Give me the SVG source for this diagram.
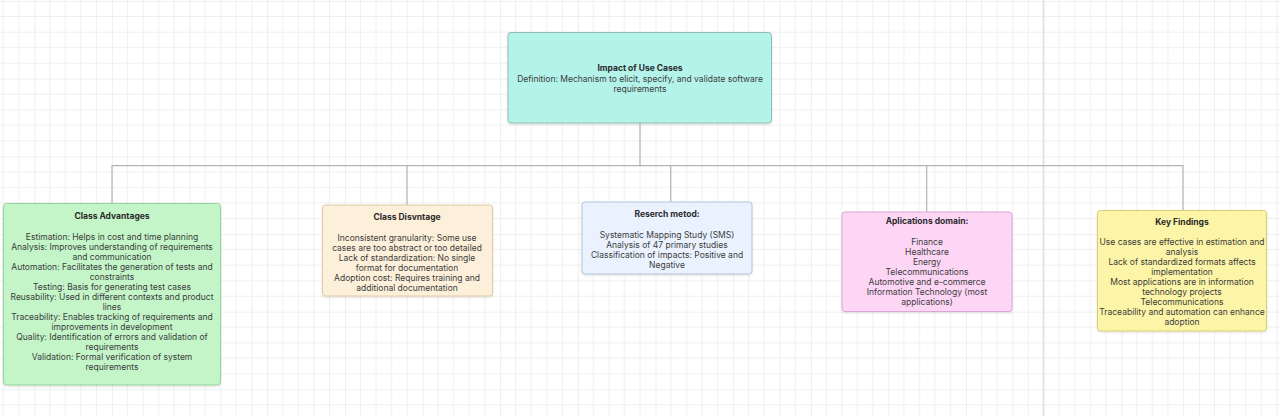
<svg xmlns="http://www.w3.org/2000/svg" width="1280" height="416" viewBox="0 0 1280 416">
<defs>
<pattern id="grid" patternUnits="userSpaceOnUse" x="34.3" y="1.05" width="77.65" height="77.65">
<g stroke="#efefef" stroke-width="1">
<line x1="15.53" y1="0" x2="15.53" y2="77.65"/>
<line x1="31.06" y1="0" x2="31.06" y2="77.65"/>
<line x1="46.59" y1="0" x2="46.59" y2="77.65"/>
<line x1="62.12" y1="0" x2="62.12" y2="77.65"/>
<line x1="0" y1="15.53" x2="77.65" y2="15.53"/>
<line x1="0" y1="31.06" x2="77.65" y2="31.06"/>
<line x1="0" y1="46.59" x2="77.65" y2="46.59"/>
<line x1="0" y1="62.12" x2="77.65" y2="62.12"/>
</g>
<g stroke="#e3e3e3" stroke-width="1.2">
<line x1="0" y1="0" x2="0" y2="77.65"/>
<line x1="0" y1="0" x2="77.65" y2="0"/>
</g>
</pattern>
<filter id="sh" x="-10%" y="-10%" width="120%" height="130%">
<feDropShadow dx="0" dy="1" stdDeviation="1" flood-color="#000" flood-opacity="0.12"/>
</filter>
</defs>
<style>
text{font-family:Inter,"Liberation Sans",Arial,sans-serif;font-size:8.5px;fill:#3c3c3c;text-anchor:middle}
.t{font-weight:bold;fill:#2a2a2a}
.box{stroke-width:1;filter:url(#sh)}
.conn{fill:none;stroke:#b4b4b4;stroke-width:1.2}
</style>
<rect width="1280" height="416" fill="#ffffff"/>
<rect width="1280" height="416" fill="url(#grid)"/>
<line x1="1043.3" y1="0" x2="1043.3" y2="416" stroke="#e0e0e0" stroke-width="1.3"/>

<g id="connectors">
<path class="conn" d="M640 123 V165.7"/>
<path class="conn" d="M112 203 V165.7 H1183 V210"/>
<path class="conn" d="M407 165.7 V205"/>
<path class="conn" d="M670.7 165.7 V202"/>
<path class="conn" d="M926.7 165.7 V212"/>
</g>

<g id="root">
<rect class="box" x="508" y="32.5" width="263.5" height="90.5" rx="3" fill="#b4f3ea" stroke="#8fbdb6"/>
<text class="t" x="640" y="71">Impact of Use Cases</text>
<text x="640" y="81.5">Definition: Mechanism to elicit, specify, and validate software</text>
<text x="640" y="92">requirements</text>
</g>

<g id="advantages">
<rect class="box" x="3.5" y="203.5" width="217" height="181.5" rx="3" fill="#c3f5c8" stroke="#93d59a"/>
<text class="t" x="112" y="219">Class Advantages</text>
<text x="112" y="239.5">Estimation: Helps in cost and time planning</text>
<text x="112" y="249.5">Analysis: Improves understanding of requirements</text>
<text x="112" y="259.5">and communication</text>
<text x="112" y="269.5">Automation: Facilitates the generation of tests and</text>
<text x="112" y="279.5">constraints</text>
<text x="112" y="289.5">Testing: Basis for generating test cases</text>
<text x="112" y="299.5">Reusability: Used in different contexts and product</text>
<text x="112" y="309.5">lines</text>
<text x="112" y="319.5">Traceability: Enables tracking of requirements and</text>
<text x="112" y="329.5">improvements in development</text>
<text x="112" y="339.5">Quality: Identification of errors and validation of</text>
<text x="112" y="349.5">requirements</text>
<text x="112" y="359.5">Validation: Formal verification of system</text>
<text x="112" y="369.5">requirements</text>
</g>

<g id="disadvantages">
<rect class="box" x="322.5" y="205" width="170" height="91" rx="3" fill="#fdf0da" stroke="#e1caa4"/>
<text class="t" x="407" y="220">Class Disvntage</text>
<text x="407" y="240.5">Inconsistent granularity: Some use</text>
<text x="407" y="250.5">cases are too abstract or too detailed</text>
<text x="407" y="260.5">Lack of standardization: No single</text>
<text x="407" y="270.5">format for documentation</text>
<text x="407" y="280.5">Adoption cost: Requires training and</text>
<text x="407" y="290.5">additional documentation</text>
</g>

<g id="method">
<rect class="box" x="582" y="202" width="170" height="72" rx="3" fill="#e9f2fe" stroke="#b2c5de"/>
<text class="t" x="667" y="217">Reserch metod:</text>
<text x="667" y="237.5">Systematic Mapping Study (SMS)</text>
<text x="667" y="247.5">Analysis of 47 primary studies</text>
<text x="667" y="257.5">Classification of impacts: Positive and</text>
<text x="667" y="267.5">Negative</text>
</g>

<g id="domains">
<rect class="box" x="842" y="212" width="170" height="99.5" rx="3" fill="#fdd6f6" stroke="#dea6d6"/>
<text class="t" x="927" y="224">Aplications domain:</text>
<text x="927" y="245">Finance</text>
<text x="927" y="255">Healthcare</text>
<text x="927" y="265">Energy</text>
<text x="927" y="275">Telecommunications</text>
<text x="927" y="285">Automotive and e-commerce</text>
<text x="927" y="295">Information Technology (most</text>
<text x="927" y="305">applications)</text>
</g>

<g id="findings">
<rect class="box" x="1097.5" y="210.5" width="169" height="120.5" rx="3" fill="#fcf4a6" stroke="#d9cd74"/>
<text class="t" x="1182" y="225">Key Findings</text>
<text x="1182" y="245">Use cases are effective in estimation and</text>
<text x="1182" y="255">analysis</text>
<text x="1182" y="265">Lack of standardized formats affects</text>
<text x="1182" y="275">implementation</text>
<text x="1182" y="285">Most applications are in information</text>
<text x="1182" y="295">technology projects</text>
<text x="1182" y="305">Telecommunications</text>
<text x="1182" y="315">Traceability and automation can enhance</text>
<text x="1182" y="325">adoption</text>
</g>
</svg>
